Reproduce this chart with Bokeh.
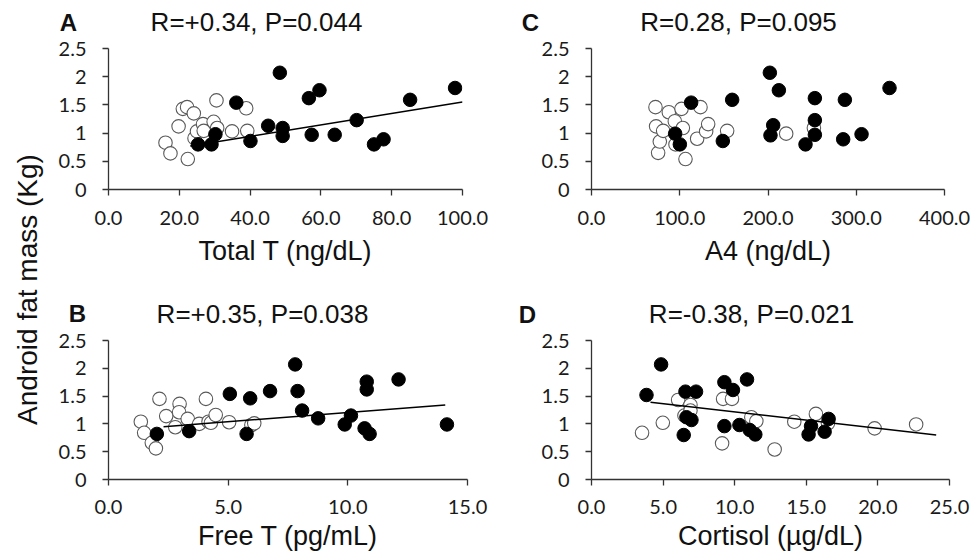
from bokeh.plotting import figure
from bokeh.layouts import row, column
from bokeh.models import Label, Range1d, FixedTicker, PrintfTickFormatter
from bokeh.embed import file_html
from bokeh.resources import INLINE

# ---------------- data ----------------
y_ticks = [0, 0.5, 1, 1.5, 2, 2.5]
y_tick_labels = ["0", "0.5", "1", "1.5", "2", "2.5"]

# Panel A: Total T (ng/dL)
a_x_ticks = [0, 20, 40, 60, 80, 100]
a_filled_x = [25.3, 29.1, 30.2, 36.1, 40.1, 45.1, 48.4, 49.2, 49.2, 56.6, 57.4, 59.6, 63.9, 70.1, 75.0, 77.7, 85.2, 97.9]
a_filled_y = [0.80, 0.80, 0.98, 1.54, 0.86, 1.13, 2.07, 0.95, 1.09, 1.62, 0.97, 1.76, 0.97, 1.23, 0.80, 0.89, 1.59, 1.80]
a_open_x = [16.1, 17.5, 19.8, 21.0, 22.2, 24.1, 22.4, 24.3, 25.0, 26.7, 26.9, 29.7, 30.5, 30.7, 34.9, 38.9, 39.2]
a_open_y = [0.83, 0.64, 1.12, 1.43, 1.46, 1.35, 0.54, 0.91, 1.03, 1.16, 1.04, 1.20, 1.58, 1.09, 1.03, 1.44, 1.04]
a_fit_x = [23.1, 100.0]
a_fit_y = [0.77, 1.55]

# Panel C: A4 (ng/dL)
c_x_ticks = [0, 100, 200, 300, 400]
c_filled_x = [112.9, 94.8, 100.1, 148.8, 159.4, 202.1, 205.9, 202.8, 212.3, 242.5, 253.1, 253.1, 253.1, 285.2, 287.1, 306.0, 337.7]
c_filled_y = [1.54, 0.99, 0.80, 0.86, 1.59, 2.07, 1.14, 0.96, 1.76, 0.80, 1.62, 1.23, 0.97, 0.89, 1.59, 0.98, 1.80]
c_open_x = [72.5, 73.2, 75.5, 77.4, 81.2, 87.6, 94.4, 95.2, 102.0, 103.5, 106.5, 119.7, 123.5, 129.9, 132.2, 153.7, 220.6, 252.0]
c_open_y = [1.46, 1.12, 0.65, 0.85, 1.04, 1.37, 1.21, 0.80, 1.43, 1.09, 0.54, 0.90, 1.46, 1.03, 1.16, 1.04, 0.99, 1.09]

# Panel B: Free T (pg/mL)
b_x_ticks = [0, 5, 10, 15]
b_filled_x = [2.02, 3.37, 5.07, 5.77, 5.92, 6.75, 7.80, 7.90, 8.09, 8.76, 9.87, 10.13, 10.70, 10.79, 10.79, 10.91, 12.12, 14.14]
b_filled_y = [0.82, 0.87, 1.54, 0.82, 1.46, 1.59, 2.07, 1.59, 1.24, 1.10, 0.99, 1.15, 0.92, 1.76, 1.62, 0.82, 1.80, 0.99]
b_open_x = [1.35, 1.49, 1.81, 1.98, 2.13, 2.41, 2.79, 2.97, 2.95, 3.31, 3.79, 4.07, 4.18, 4.28, 4.48, 5.04, 5.97, 6.09]
b_open_y = [1.04, 0.84, 0.66, 0.56, 1.45, 1.14, 0.94, 1.36, 1.21, 1.09, 1.00, 1.45, 1.04, 1.02, 1.16, 1.03, 0.98, 1.01]
b_fit_x = [2.30, 14.07]
b_fit_y = [0.95, 1.34]

# Panel D: Cortisol (µg/dL)
d_x_ticks = [0, 5, 10, 15, 20, 25]
d_filled_x = [3.84, 4.86, 6.56, 7.30, 6.63, 6.98, 6.44, 9.28, 9.88, 10.86, 9.28, 10.33, 11.05, 11.44, 15.16, 15.33, 16.28, 16.56]
d_filled_y = [1.52, 2.07, 1.58, 1.58, 1.12, 1.07, 0.80, 1.75, 1.61, 1.80, 0.96, 0.98, 0.89, 0.81, 0.81, 0.96, 0.86, 1.09]
d_open_x = [3.53, 4.98, 6.05, 6.49, 6.91, 6.91, 9.12, 9.19, 9.81, 11.16, 11.51, 12.79, 14.16, 15.67, 16.51, 19.77, 22.67]
d_open_y = [0.84, 1.02, 1.43, 1.15, 1.34, 1.24, 0.65, 1.45, 1.45, 1.12, 1.05, 0.54, 1.04, 1.18, 1.01, 0.92, 0.99]
d_fit_x = [4.12, 24.07]
d_fit_y = [1.39, 0.80]

titles = {"A": "R=+0.34, P=0.044", "C": "R=0.28, P=0.095",
          "B": "R=+0.35, P=0.038", "D": "R=-0.38, P=0.021"}
x_labels = {"A": "Total T (ng/dL)", "C": "A4 (ng/dL)",
            "B": "Free T (pg/mL)", "D": "Cortisol (µg/dL)"}
y_label = "Android fat mass (Kg)"

TICK_FONT = "Lato"
TEXT_FONT = "Liberation Sans"


def blank(width, height):
    f = figure(width=width, height=height, output_backend="svg",
               toolbar_location=None, tools="", title=None,
               x_range=Range1d(0, width), y_range=Range1d(0, height),
               min_border=0)
    f.axis.visible = False
    f.grid.visible = False
    f.outline_line_color = None
    return f


def header(letter, width, height, letter_pos, title_pos):
    h = blank(width, height)
    h.add_layout(Label(x=letter_pos[0], y=letter_pos[1], text=letter,
                       text_font=TEXT_FONT, text_font_style="bold",
                       text_font_size="24px", text_align="center",
                       text_baseline="middle", text_color="#111111"))
    h.add_layout(Label(x=title_pos[0], y=title_pos[1], text=titles[letter],
                       text_font=TEXT_FONT, text_font_size="26px",
                       text_align="center", text_baseline="middle",
                       text_color="#111111"))
    return h


def make_panel(letter, width, height, bl, br, bt, bb, x_ticks,
               fx, fy, ox, oy, fit_x, fit_y, lab_standoff, axlab_standoff):
    p = figure(width=width, height=height, output_backend="svg",
               toolbar_location=None, tools="", title=None,
               x_range=Range1d(0, x_ticks[-1]), y_range=Range1d(0, 2.5),
               min_border_left=bl, min_border_right=br,
               min_border_top=bt, min_border_bottom=bb)
    p.outline_line_color = None
    p.grid.visible = False

    for ax in (p.xaxis[0], p.yaxis[0]):
        ax.axis_line_color = "#333333"
        ax.axis_line_width = 1.3
        ax.major_tick_line_color = "#333333"
        ax.major_tick_line_width = 1.3
        ax.major_tick_in = 0
        ax.major_tick_out = 6
        ax.minor_tick_line_color = None
        ax.major_label_text_font = TICK_FONT
        ax.major_label_text_font_size = "20px"
        ax.major_label_text_color = "#1a1a1a"

    p.xaxis.ticker = FixedTicker(ticks=x_ticks)
    p.xaxis.formatter = PrintfTickFormatter(format="%.1f")
    p.xaxis.major_label_standoff = lab_standoff
    p.xaxis.axis_label = x_labels[letter]
    p.xaxis.axis_label_text_font = TEXT_FONT
    p.xaxis.axis_label_text_font_style = "normal"
    p.xaxis.axis_label_text_font_size = "27px"
    p.xaxis.axis_label_text_color = "#111111"
    p.xaxis.axis_label_standoff = axlab_standoff

    p.yaxis.ticker = FixedTicker(ticks=y_ticks)
    p.yaxis.major_label_overrides = {t: s for t, s in zip(y_ticks, y_tick_labels)}
    p.yaxis.major_label_standoff = 16

    p.scatter(ox, oy, marker="circle", size=13.5, fill_color="white",
              line_color="#5a5a5a", line_width=1.1)
    p.scatter(fx, fy, marker="circle", size=13.5, fill_color="black",
              line_color="black", line_width=1)
    if fit_x is not None:
        p.line(fit_x, fit_y, line_color="black", line_width=1.5)
    return p


hA = header("A", 454, 36, (20, 14), (208, 15))
hC = header("C", 468, 36, (28, 14), (236, 15))
hB = header("B", 454, 53, (29, 15.5), (214, 15))
hD = header("D", 468, 53, (25, 14), (249, 15))

pA = make_panel("A", 454, 239, 60, 40, 12, 86, a_x_ticks,
                a_filled_x, a_filled_y, a_open_x, a_open_y, a_fit_x, a_fit_y, 15, 8)
pC = make_panel("C", 468, 239, 89, 26, 12, 86, c_x_ticks,
                c_filled_x, c_filled_y, c_open_x, c_open_y, None, None, 15, 8)
pB = make_panel("B", 454, 229, 60, 35, 12, 78, b_x_ticks,
                b_filled_x, b_filled_y, b_open_x, b_open_y, b_fit_x, b_fit_y, 14, 4)
pD = make_panel("D", 468, 229, 89, 21, 12, 78, d_x_ticks,
                d_filled_x, d_filled_y, d_open_x, d_open_y, d_fit_x, d_fit_y, 14, 4)

# shared y label
pL = blank(48, 557)
pL.add_layout(Label(x=27, y=557 - 289, text=y_label, angle=1.5707963,
                    text_font=TEXT_FONT, text_font_size="28px",
                    text_align="center", text_baseline="middle",
                    text_color="#111111"))

layout = row(pL, column(row(hA, hC), row(pA, pC), row(hB, hD), row(pB, pD)))

with open("out.html", "w") as f:
    f.write(file_html(layout, INLINE))
